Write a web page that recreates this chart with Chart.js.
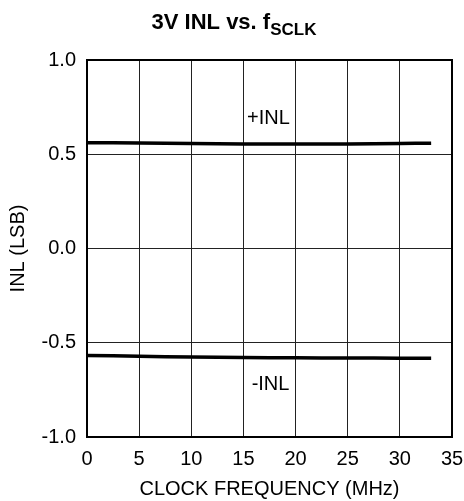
<!DOCTYPE html>
<html>
<head>
<meta charset="utf-8">
<script src="https://cdn.jsdelivr.net/npm/chart.js@4/dist/chart.umd.min.js"></script>
<style>
  html, body { margin: 0; padding: 0; background: #fff; }
  #wrap { width: 464px; height: 501px; }
</style>
</head>
<body>
<div id="wrap"><canvas id="inlChart" width="464" height="501"></canvas></div>
<script>
// Data
const freqMHz = [0, 5, 10, 15, 20, 25, 30, 33];
const posINL = [0.561, 0.560, 0.557, 0.555, 0.554, 0.555, 0.557, 0.559];
const negINL = [-0.567, -0.572, -0.576, -0.578, -0.580, -0.581, -0.582, -0.582];
const xTicks = [0, 5, 10, 15, 20, 25, 30, 35];
const yTicks = [-1.0, -0.5, 0.0, 0.5, 1.0];

const FONT = "'Liberation Sans', Arial, sans-serif";

// Title with subscript and in-plot labels
const annotate = {
    id: 'annotate',
    afterDraw(chart) {
        const c = chart.ctx;
        const xs = chart.scales.x, ys = chart.scales.y;
        c.save();
        c.fillStyle = '#000';
        // title
        const main = '3V INL vs. f';
        const sub = 'SCLK';
        c.font = 'bold 22px ' + FONT;
        const w1 = c.measureText(main).width;
        c.font = 'bold 17px ' + FONT;
        const w2 = c.measureText(sub).width;
        let x0 = 234 - (w1 + w2) / 2;
        c.textBaseline = 'alphabetic';
        c.textAlign = 'left';
        c.font = 'bold 22px ' + FONT;
        c.fillText(main, x0, 29);
        c.font = 'bold 17px ' + FONT;
        c.fillText(sub, x0 + w1, 35);
        // line labels
        c.font = '20px ' + FONT;
        c.textAlign = 'center';
        c.textBaseline = 'middle';
        c.fillText('+INL', xs.getPixelForValue(17.4), ys.getPixelForValue(0.69));
        c.fillText('-INL', xs.getPixelForValue(17.6), ys.getPixelForValue(-0.72));
        // heavy border
        const a = chart.chartArea;
        c.strokeStyle = '#000';
        c.lineWidth = 2;
        c.strokeRect(a.left, a.top, a.right - a.left, a.bottom - a.top);
        c.restore();
    }
};

const ctx = document.getElementById('inlChart').getContext('2d');
new Chart(ctx, {
    type: 'line',
    data: {
        datasets: [
            {
                label: '+INL',
                data: freqMHz.map((f, i) => ({ x: f, y: posINL[i] })),
                borderColor: '#000',
                borderWidth: 3.5,
                pointRadius: 0,
                tension: 0.3
            },
            {
                label: '-INL',
                data: freqMHz.map((f, i) => ({ x: f, y: negINL[i] })),
                borderColor: '#000',
                borderWidth: 3.5,
                pointRadius: 0,
                tension: 0.3
            }
        ]
    },
    options: {
        responsive: false,
        animation: false,
        layout: { padding: { top: 60, right: 12, left: 6, bottom: 0 } },
        plugins: {
            legend: { display: false },
            tooltip: { enabled: false },
            title: { display: false }
        },
        scales: {
            x: {
                type: 'linear',
                min: 0,
                max: 35,
                afterBuildTicks: s => { s.ticks = xTicks.map(v => ({ value: v })); },
                grid: { color: '#222', lineWidth: 1, drawTicks: false },
                border: { display: false },
                ticks: {
                    color: '#000',
                    padding: 10,
                    font: { family: FONT, size: 20 },
                    maxRotation: 0
                },
                title: {
                    display: true,
                    text: 'CLOCK FREQUENCY (MHz)',
                    color: '#000',
                    font: { family: FONT, size: 20 },
                    padding: { top: 8, bottom: 0 }
                },
                afterFit: s => { s.height = 64; s.paddingRight = 0; s.paddingLeft = 0; }
            },
            y: {
                min: -1.0,
                max: 1.0,
                afterBuildTicks: s => { s.ticks = yTicks.map(v => ({ value: v })); },
                grid: { color: '#222', lineWidth: 1, drawTicks: false },
                border: { display: false },
                ticks: {
                    color: '#000',
                    padding: 11,
                    font: { family: FONT, size: 20 },
                    callback: v => v.toFixed(1)
                },
                title: {
                    display: true,
                    text: 'INL (LSB)',
                    color: '#000',
                    font: { family: FONT, size: 20 },
                    padding: { top: 0, bottom: 4 }
                },
                afterFit: s => { s.width = 81; s.paddingTop = 0; s.paddingBottom = 0; }
            }
        }
    },
    plugins: [annotate]
});
</script>
</body>
</html>
